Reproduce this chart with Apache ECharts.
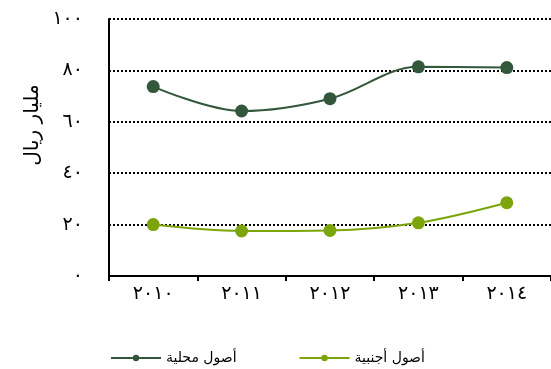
<!DOCTYPE html>
<html><head><meta charset="utf-8">
<script src="https://cdn.jsdelivr.net/npm/echarts@6/dist/echarts.min.js"></script>
<style>html,body{margin:0;padding:0;background:#fff}#c{width:551px;height:369px}</style>
</head><body><div id="c"></div>
<script>
const categories = ['٢٠١٠','٢٠١١','٢٠١٢','٢٠١٣','٢٠١٤'];
const yTickLabels = {0:'٠',20:'٢٠',40:'٤٠',60:'٦٠',80:'٨٠',100:'١٠٠'};
const localAssets = [73.7, 64.2, 69.0, 81.4, 81.1];
const foreignAssets = [20.0, 17.5, 17.7, 20.7, 28.5];
const seriesNames = ['أصول محلية', 'أصول أجنبية'];
const yAxisTitle = 'مليار ريال';

const chart = echarts.init(document.getElementById('c'), null, {renderer:'canvas'});
chart.setOption({
  animation: false,
  backgroundColor: '#fff',
  textStyle: {fontFamily: 'DejaVu Sans'},
  grid: {left: 109, right: 0, top: 19, bottom: 93},
  legend: {
    left: 105, top: 346, itemWidth: 50, itemHeight: 8, itemGap: 62,
    textStyle: {fontSize: 14, color: '#000', fontFamily: 'DejaVu Sans'},
    data: seriesNames
  },
  graphic: [{
    type: 'text', x: 33, y: 125, rotation: Math.PI/2,
    style: {text: yAxisTitle, fontSize: 20, fill: '#000', align: 'center', verticalAlign: 'middle', fontFamily: 'DejaVu Sans'}
  }],
  xAxis: {
    type: 'category', data: categories, boundaryGap: true,
    axisLine: {lineStyle: {color: '#000', width: 2}},
    axisTick: {show: true, length: 5, lineStyle: {color: '#000', width: 2}},
    axisLabel: {color: '#000', fontSize: 19, margin: 9, fontFamily: 'DejaVu Sans'}
  },
  yAxis: {
    type: 'value', min: 0, max: 100, interval: 20,
    axisLine: {show: true, lineStyle: {color: '#000', width: 2}},
    axisTick: {show: false},
    axisLabel: {color: '#000', fontSize: 19, margin: 26, fontFamily: 'DejaVu Sans', formatter: v => yTickLabels[v]},
    splitLine: {show: true, lineStyle: {color: '#000', width: 2, type: [2, 2]}}
  },
  series: [
    {name: seriesNames[0], type: 'line', smooth: 0.35, data: localAssets,
     symbol: 'circle', symbolSize: 13, color: '#33573A',
     lineStyle: {width: 2, color: '#33573A'}, itemStyle: {color: '#33573A'}},
    {name: seriesNames[1], type: 'line', smooth: 0.35, data: foreignAssets,
     symbol: 'circle', symbolSize: 13, color: '#7BA50A',
     lineStyle: {width: 2, color: '#7BA50A'}, itemStyle: {color: '#7BA50A'}}
  ]
});
</script></body></html>
